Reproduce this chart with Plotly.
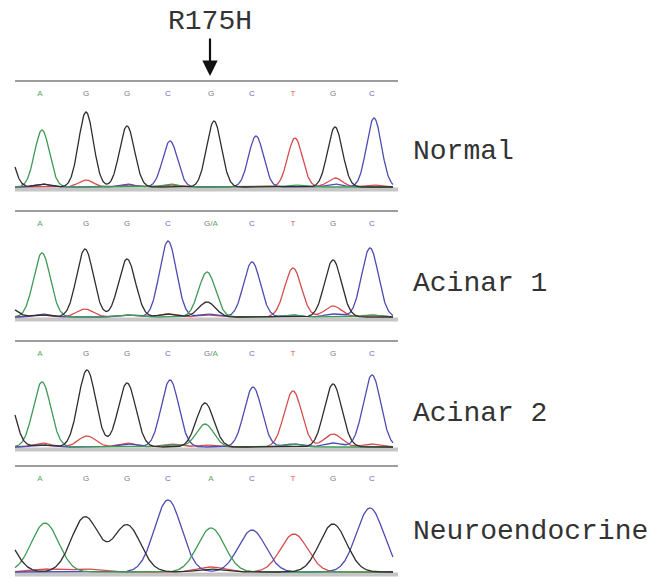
import numpy as np
import plotly.graph_objects as go

# ---------------- data ----------------
panel_names = ["Normal", "Acinar 1", "Acinar 2", "Neuroendocrine"]
mutation_label = "R175H"
mutation_scan = 210

calls_normal = ["A", "G", "G", "C", "G", "C", "T", "G", "C"]
calls_acinar1 = ["A", "G", "G", "C", "G/A", "C", "T", "G", "C"]
calls_acinar2 = ["A", "G", "G", "C", "G/A", "C", "T", "G", "C"]
calls_neuro = ["A", "G", "G", "C", "A", "C", "T", "G", "C"]
call_scan = [40, 86, 127, 168, 211, 252, 293, 333, 372]

# peak scan positions per panel
scan_normal = [42, 86, 127, 170, 214, 256, 295, 335, 374]
scan_acinar1 = [42, 85, 127, 168, 207, 252, 293, 333, 370]
scan_acinar2 = [42, 87, 127, 170, 205, 253, 293, 333, 372]
scan_neuro = [45, 85, 127, 168, 211, 252, 294, 333, 370]

# peak widths (scan units)
width_panels = [7.4, 8.4, 8.8, 13.5]

# signal heights per channel at each base position
normal_A = [57, 0, 0, 3, 0, 0, 2, 0, 0]
normal_C = [3, 0, 3, 46, 0, 51, 0, 3, 69]
normal_G = [3, 75, 61, 0, 66, 0, 0, 60, 0]
normal_T = [0, 7, 2, 2, 0, 0, 49, 9, 2]

acinar1_A = [64, 0, 2, 0, 45, 0, 2, 0, 2]
acinar1_C = [3, 0, 2, 76, 3, 55, 2, 3, 69]
acinar1_G = [2, 68, 58, 3, 15, 0, 0, 57, 0]
acinar1_T = [2, 8, 2, 3, 2, 0, 49, 11, 2]

acinar2_A = [65, 0, 0, 2, 23, 0, 3, 0, 0]
acinar2_C = [2, 0, 3, 67, 0, 60, 3, 4, 72]
acinar2_G = [2, 77, 64, 0, 44, 0, 0, 63, 0]
acinar2_T = [4, 11, 4, 3, 2, 0, 56, 13, 3]

neuro_A = [49, 0, 0, 0, 44, 0, 0, 0, 0]
neuro_C = [0, 0, 0, 72, 0, 42, 0, 0, 64]
neuro_G = [0, 55, 47, 0, 3, 0, 0, 48, 0]
neuro_T = [3, 3, 0, 0, 5, 0, 38, 0, 0]

# preceding (off-trace) G peak that shows at the left edge
lead_scan = [5, 8, 5, 0]
lead_height = [50, 10, 61, 41]

# ---------------- styling ----------------
W, H = 666, 579
baseline_px = [187, 317, 447, 572]
trace_start, trace_end = 15, 393
line_start, line_end = 15, 398
chan_color = {"A": "#3f9a56", "C": "#4c4cb2", "G": "#2e2e2e", "T": "#d64c4c"}
call_color = {"A": "#55a865", "C": "#6868c0", "G": "#7a7a7a", "T": "#d45a5a"}
mono = "Liberation Mono, Courier New, monospace"

panels = [
    (calls_normal, scan_normal, normal_A, normal_C, normal_G, normal_T),
    (calls_acinar1, scan_acinar1, acinar1_A, acinar1_C, acinar1_G, acinar1_T),
    (calls_acinar2, scan_acinar2, acinar2_A, acinar2_C, acinar2_G, acinar2_T),
    (calls_neuro, scan_neuro, neuro_A, neuro_C, neuro_G, neuro_T),
]

fig = go.Figure()
xs = np.linspace(trace_start, trace_end, 900)


def peaks(pos, hts, s):
    y = np.zeros_like(xs)
    for p, h in zip(pos, hts):
        if h:
            y += h * np.exp(-((xs - p) ** 2) / (2 * s * s))
    return y


def call_text(c):
    if c == "G/A":
        return ('<span style="color:%s">G/</span><span style="color:%s">A</span>'
                % (call_color["G"], call_color["A"]))
    return c


shapes = []
annotations = []
for k, (calls, pos, hA, hC, hG, hT) in enumerate(panels):
    yname = "y" if k == 0 else "y%d" % (k + 1)
    s = width_panels[k]
    chans = {"T": hT, "C": hC, "A": hA, "G": hG}
    for ch in ["T", "C", "A", "G"]:
        y = peaks(pos, chans[ch], s)
        if ch == "G":
            y += lead_height[k] * np.exp(-((xs - lead_scan[k]) ** 2) / (2 * s * s))
        fig.add_trace(go.Scatter(
            x=xs, y=y, mode="lines", xaxis="x", yaxis=yname,
            line=dict(color=chan_color[ch], width=1.3), showlegend=False,
            hoverinfo="skip"))
    fig.add_trace(go.Scatter(
        x=call_scan, y=[93] * len(calls), mode="text", xaxis="x", yaxis=yname,
        text=[call_text(c) for c in calls],
        textfont=dict(family="Liberation Sans, Arial, sans-serif", size=8,
                      color=[call_color.get(c, call_color["G"]) for c in calls]),
        showlegend=False, hoverinfo="skip"))
    shapes.append(dict(type="line", xref="x", yref=yname, x0=line_start, x1=line_end,
                       y0=106, y1=106, line=dict(color="#7c7c7c", width=1.5)))
    shapes.append(dict(type="rect", xref="x", yref=yname, x0=line_start, x1=line_end,
                       y0=-4.5, y1=-0.5, fillcolor="#c6c6c6", line=dict(width=0),
                       layer="below"))
    label_y = [152, 283, 413, 531][k]
    annotations.append(dict(text=panel_names[k], xref="paper", yref="paper",
                            x=411 / W, y=1 - label_y / H, xanchor="left", yanchor="middle",
                            showarrow=False, font=dict(family=mono, size=28, color="#333333")))

# mutation label and arrow
annotations.append(dict(text=mutation_label, xref="x", yref="paper", x=mutation_scan,
                        y=1 - 21 / H, xanchor="center", yanchor="middle", showarrow=False,
                        font=dict(family=mono, size=28, color="#333333")))
annotations.append(dict(text="", xref="x", yref="paper", x=mutation_scan, y=1 - 76 / H,
                        ax=0, ay=-39, showarrow=True, arrowhead=2, arrowsize=1.4,
                        arrowwidth=2.2, arrowcolor="#111111"))

layout = dict(
    width=W, height=H, margin=dict(l=0, r=0, t=0, b=0),
    paper_bgcolor="white", plot_bgcolor="white", showlegend=False,
    xaxis=dict(range=[0, W], domain=[0, 1], visible=False, fixedrange=True),
    shapes=shapes, annotations=annotations,
)
for k in range(4):
    b = baseline_px[k]
    key = "yaxis" if k == 0 else "yaxis%d" % (k + 1)
    layout[key] = dict(range=[-5, 110], domain=[1 - (b + 5) / H, 1 - (b - 110) / H],
                       visible=False, fixedrange=True, anchor="x")
fig.update_layout(**layout)
fig.write_html("out.html", config={"displayModeBar": False},
               post_script="document.body.style.margin='0';document.body.style.overflow='hidden';")
